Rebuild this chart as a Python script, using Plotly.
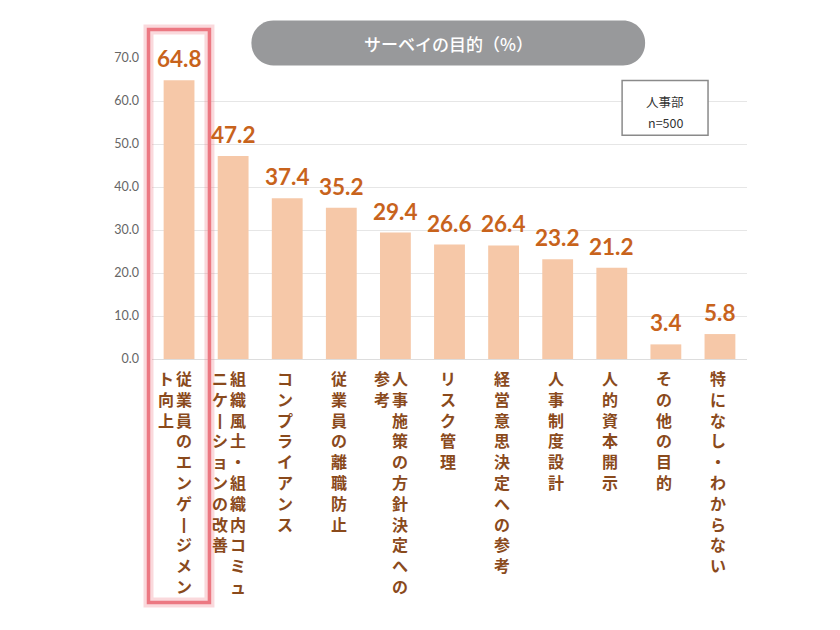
import plotly.graph_objects as go

categories = [
    "従業員のエンゲージメント向上",
    "組織風土・組織内コミュニケーションの改善",
    "コンプライアンス",
    "従業員の離職防止",
    "人事施策の方針決定への参考",
    "リスク管理",
    "経営意思決定への参考",
    "人事制度設計",
    "人的資本開示",
    "その他の目的",
    "特になし・わからない",
]
values = [64.8, 47.2, 37.4, 35.2, 29.4, 26.6, 26.4, 23.2, 21.2, 3.4, 5.8]
tick_values = [0, 10, 20, 30, 40, 50, 60, 70]
title_text = "サーベイの目的（%）"
box_lines = ["人事部", "n=500"]

W, H = 840, 630
L, R, T, B = 151.5, 747, 57.5, 359


def fx(p):
    return (p - L) / (R - L)


def fy(p):
    return (B - p) / (B - T)


JP = "Noto Sans CJK JP"
NUM = "Lato"

fig = go.Figure()
fig.add_trace(go.Bar(
    x=categories, y=values, width=0.57,
    marker=dict(color="#F6C8A8", line=dict(width=0)),
    hoverinfo="skip",
))

annotations = []
# value labels
for c, v in zip(categories, values):
    annotations.append(dict(
        x=c, y=v, xref="x", yref="y", text=f"{v:.1f}", showarrow=False,
        yanchor="bottom", yshift=6,
        font=dict(family=NUM, size=22.5, color="#C8631C", weight="bold"),
    ))


# vertical category labels
def vert(s):
    return "<br>".join("丨" if ch == "ー" else ch for ch in s)


COL = 11
for c in categories:
    cols = [c[i:i + COL] for i in range(0, len(c), COL)]
    if len(cols) == 1:
        shifts = [-2]
    else:
        shifts = [4.5, -13]
    for part, sh in zip(cols, shifts):
        annotations.append(dict(
            x=c, y=fy(364), xref="x", yref="paper", text=vert(part),
            showarrow=False, yanchor="top", xanchor="center", xshift=sh,
            align="center",
            font=dict(family=JP, size=16, color="#8A4A1C", weight="bold"),
        ))

# title pill text
annotations.append(dict(
    x=fx(448), y=fy(43), xref="paper", yref="paper", text=title_text,
    showarrow=False, xanchor="center", yanchor="middle",
    font=dict(family=JP, size=17, color="white", weight=500),
))
# n box text
for line, ypx in zip(box_lines, [101, 122]):
    annotations.append(dict(
        x=fx(665), y=fy(ypx), xref="paper", yref="paper",
        text=line, showarrow=False, xanchor="center", yanchor="middle",
        font=dict(family=JP, size=12.5, color="#333333"),
    ))


def rounded_path(x0, y0, x1, y1, r):
    k = 0.5523 * r

    def P(x, y):
        return f"{fx(x):.5f},{fy(y):.5f}"
    d = f"M {P(x0 + r, y0)} L {P(x1 - r, y0)} "
    d += f"C {P(x1 - r + k, y0)} {P(x1, y0 + r - k)} {P(x1, y0 + r)} "
    d += f"L {P(x1, y1 - r)} "
    d += f"C {P(x1, y1 - r + k)} {P(x1 - r + k, y1)} {P(x1 - r, y1)} "
    d += f"L {P(x0 + r, y1)} "
    d += f"C {P(x0 + r - k, y1)} {P(x0, y1 - r + k)} {P(x0, y1 - r)} "
    d += f"L {P(x0, y0 + r)} "
    d += f"C {P(x0, y0 + r - k)} {P(x0 + r - k, y0)} {P(x0 + r, y0)} Z"
    return d


shapes = [
    dict(type="path", xref="paper", yref="paper",
         path=rounded_path(251, 20, 645, 65, 22),
         fillcolor="#98999B", line=dict(width=0), layer="above"),
    dict(type="rect", xref="paper", yref="paper",
         x0=fx(622), x1=fx(708), y0=fy(80), y1=fy(135),
         fillcolor="white", line=dict(color="#8A8A8A", width=1.5), layer="above"),
    # highlight glow + core
    dict(type="rect", xref="paper", yref="paper",
         x0=fx(148), x1=fx(209), y0=fy(603), y1=fy(29),
         fillcolor="rgba(0,0,0,0)", line=dict(color="rgba(240,130,140,0.3)", width=10),
         layer="above"),
    dict(type="rect", xref="paper", yref="paper",
         x0=fx(148), x1=fx(209), y0=fy(603), y1=fy(29),
         fillcolor="rgba(0,0,0,0)", line=dict(color="#EC7882", width=3.5),
         layer="above"),
]

fig.update_layout(
    width=W, height=H, autosize=False,
    margin=dict(l=L, r=W - R, t=T, b=H - B, pad=0),
    paper_bgcolor="white", plot_bgcolor="white",
    showlegend=False,
    annotations=annotations, shapes=shapes,
    xaxis=dict(showticklabels=False, showgrid=False, zeroline=False,
               showline=False, ticks="", range=[-0.5, 10.5]),
    yaxis=dict(range=[0, 70], tickvals=tick_values, tickformat=".1f",
               showgrid=True, gridcolor="#E6E6E6", gridwidth=1,
               zeroline=True, zerolinecolor="#DDDDDD", zerolinewidth=1,
               showline=False, ticks="", ticklabelstandoff=12,
               tickfont=dict(family=NUM, size=12.5, color="#666666")),
)

fig.write_html("out.html")
